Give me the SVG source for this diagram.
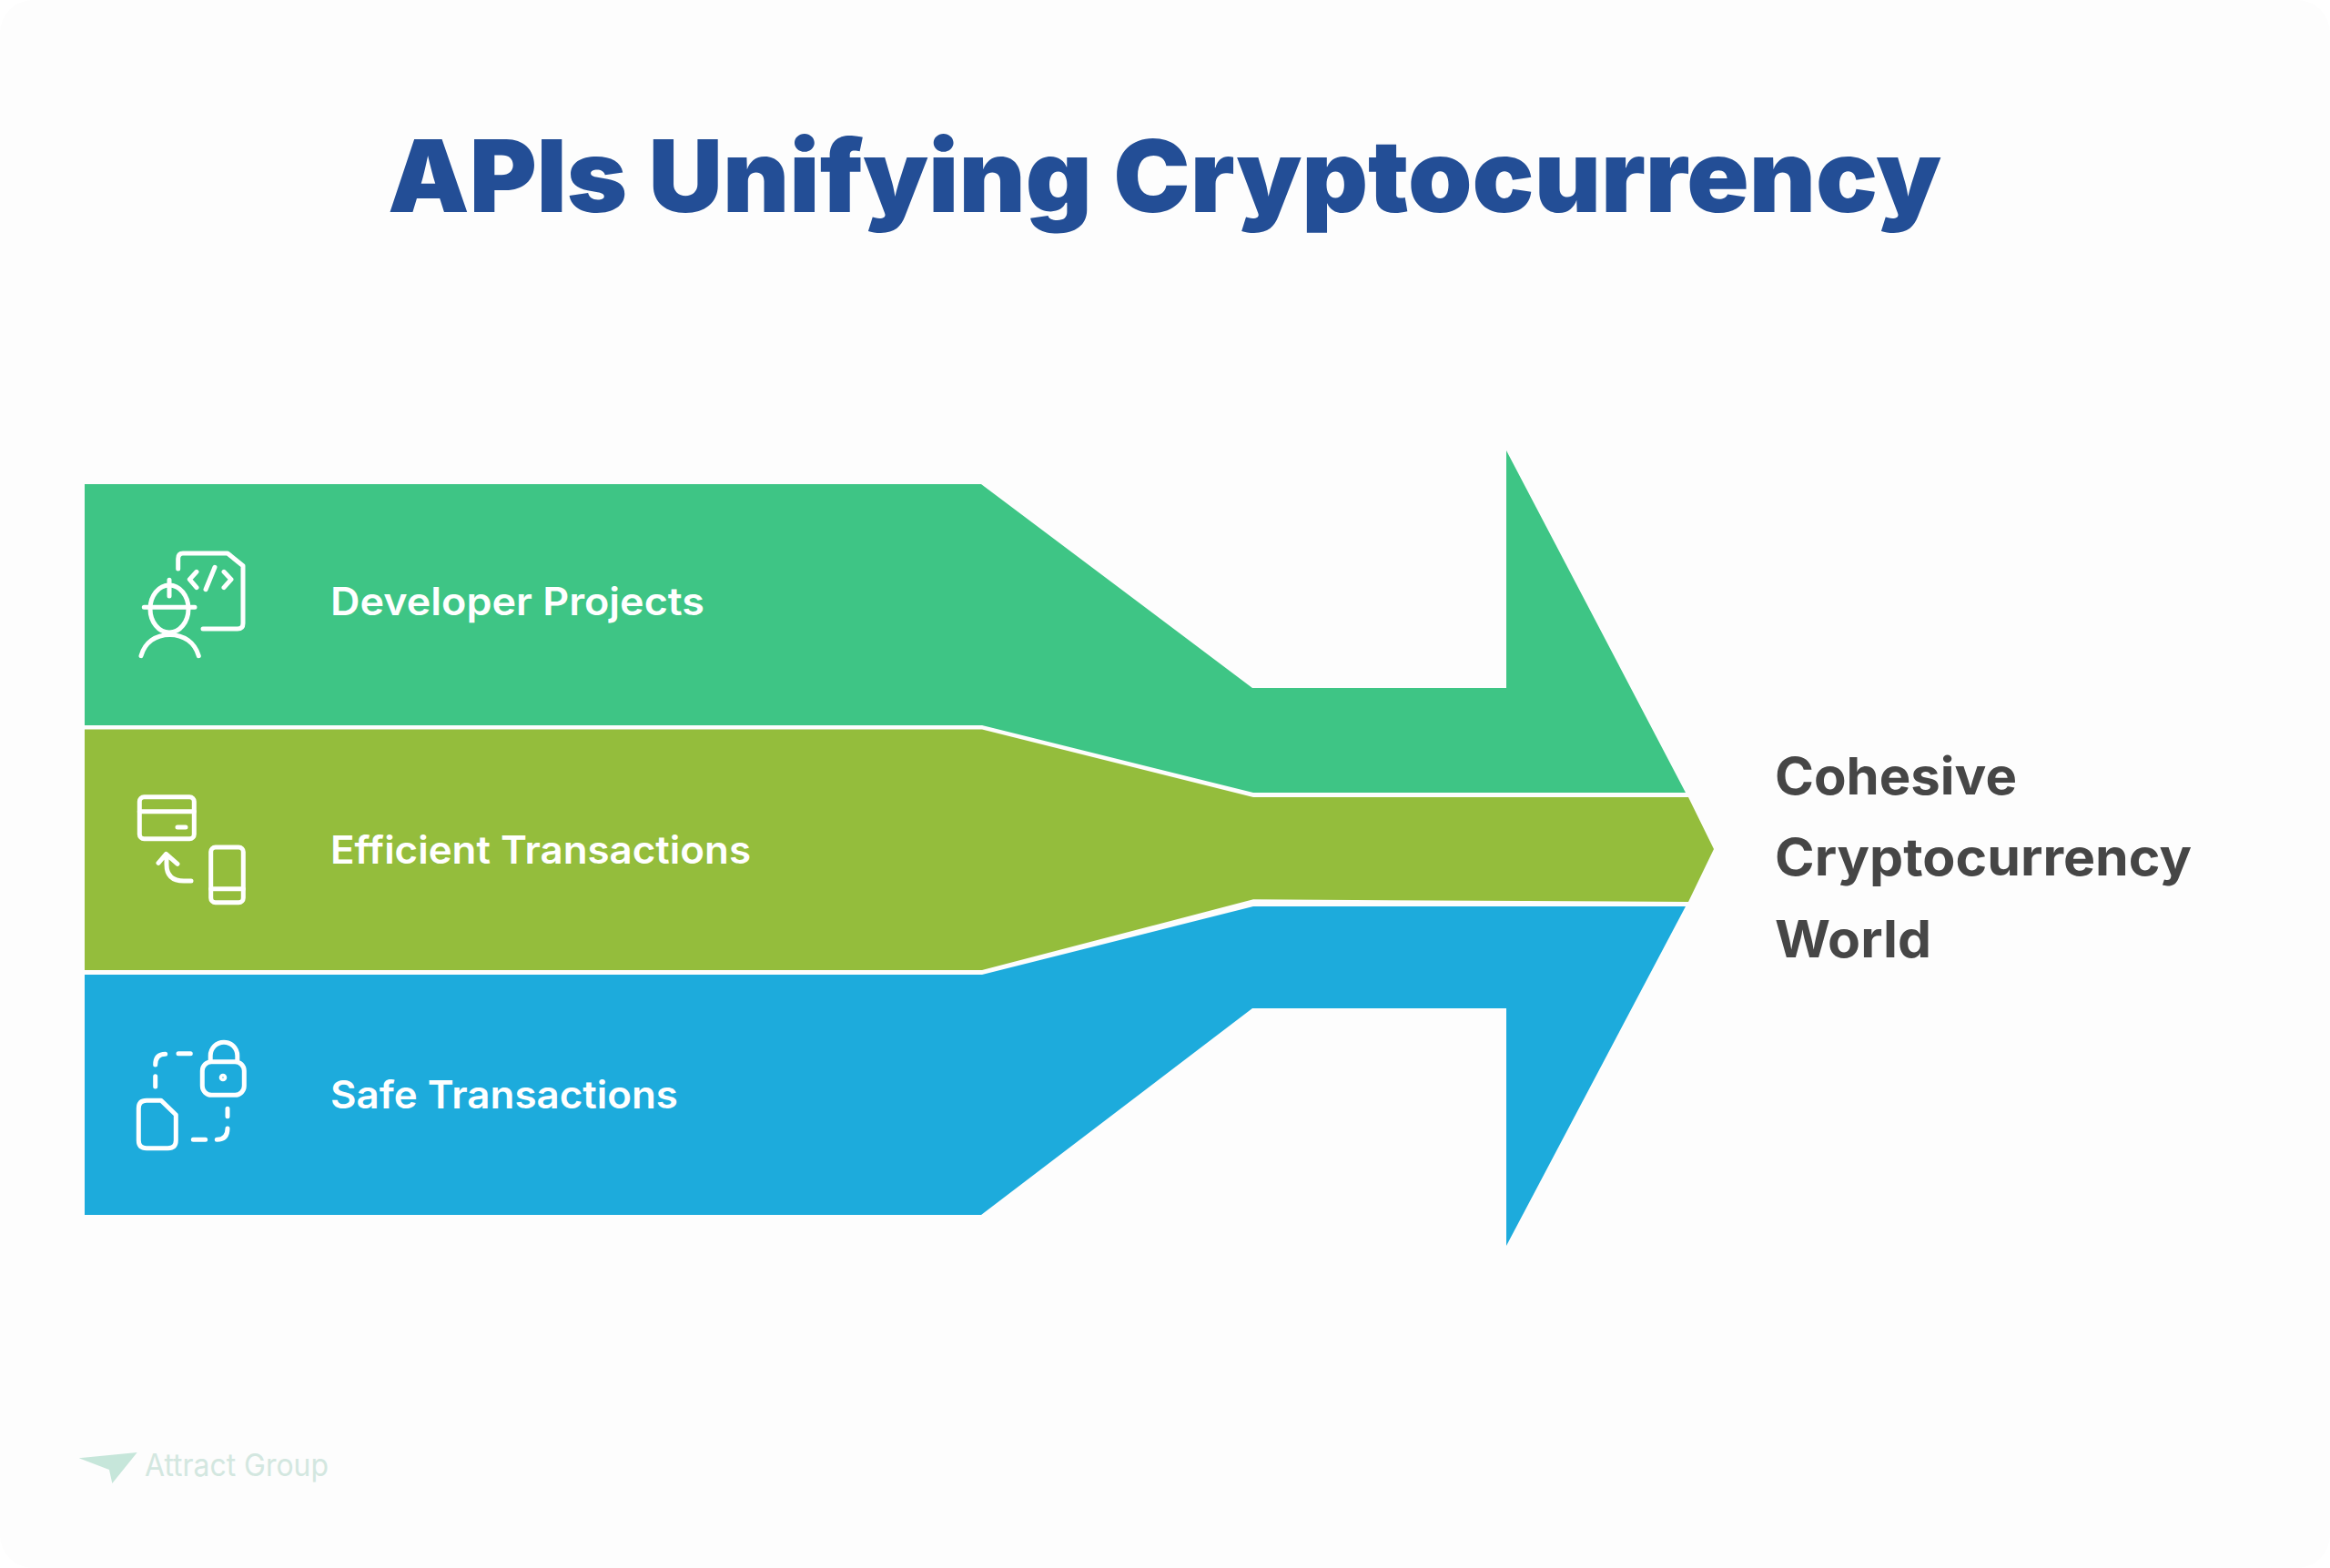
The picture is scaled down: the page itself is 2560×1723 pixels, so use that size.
<svg xmlns="http://www.w3.org/2000/svg" width="2560" height="1723" viewBox="0 0 2560 1723">
<style>
.ic{fill:none;stroke:#fff;stroke-width:5;stroke-linecap:round;stroke-linejoin:round}
.lb{font-family:"Inter","Liberation Sans",sans-serif;font-weight:600;font-size:42px;fill:#fff}
.rt{font-family:"Inter","Liberation Sans",sans-serif;font-weight:700;font-size:56px;fill:#464646}
</style>
<rect width="2560" height="1723" fill="#fff"/>
<rect x="0" y="0" width="2560" height="1723" rx="36" fill="#fdfdfd"/>
<text id="title" x="426" y="233" textLength="1707" lengthAdjust="spacingAndGlyphs" word-spacing="1" font-family="Inter,'Liberation Sans',sans-serif" font-weight="900" font-size="110" fill="#234e96">APIs Unifying Cryptocurrency</text>
<g id="connectors">
<path id="band-green" fill="#3ec585" d="M93 532H1078L1376 756H1655V495L1852 871H1377L1079 797H93Z"/>
<path id="band-olive" fill="#94bd3c" d="M93 801.500H1079L1377 876H1855L1883 933L1855 991L1377 988.300L1079 1066H93Z"/>
<path id="band-blue" fill="#1dabdc" d="M93 1071H1079L1377 996H1852L1655 1369V1108H1376L1078 1335H93Z"/>
</g>
<g id="node-developer">
<path class="ic" d="M195.700 625V614Q195.700 608 201 608H250L267 621.700V685Q267 691 261 691H223"/>
<path class="ic" d="M216 628.300L208.300 636.700L216 645.700M236 623.300L226 647.700M246 628.300L254 636.700L246 645.700"/>
<ellipse class="ic" cx="186" cy="669" rx="21" ry="26"/>
<path class="ic" d="M158.300 667.300H214M186 637.300V655M155 720.700C159 706 171 697.500 186.500 697.500C202 697.500 214 706 218.300 720.700"/>
<text class="lb" x="363" y="675.500" textLength="411" lengthAdjust="spacingAndGlyphs">Developer Projects</text>
</g>
<g id="node-efficient">
<rect class="ic" x="153.300" y="875.700" width="60" height="46" rx="5"/>
<path class="ic" d="M153.300 891.700H213.300M195 909H204"/>
<rect class="ic" x="231.700" y="931" width="35.600" height="60.700" rx="5"/>
<path class="ic" d="M231.700 976.700H267.300M174 948.300L182.500 938.300L195 949.300M183 940V950Q183 968 202 968H210"/>
<text class="lb" x="363" y="948.500" textLength="462" lengthAdjust="spacingAndGlyphs">Efficient Transactions</text>
</g>
<g id="node-safe">
<rect class="ic" x="222.300" y="1166.700" width="46" height="36.600" rx="10"/>
<path class="ic" d="M231.200 1165V1160A14.800 14.800 0 0 1 260.800 1160V1165"/>
<circle class="ic" cx="245" cy="1184" r="1.800"/>
<path class="ic" d="M161 1209.300H177L193.300 1225V1253Q193.300 1261.700 184.500 1261.700H161Q152.300 1261.700 152.300 1253V1218Q152.300 1209.300 161 1209.300Z"/>
<path class="ic" d="M170.700 1170Q170.700 1158.300 181.700 1158.300M196 1157.700H209.300M170.700 1182.700V1194M250 1218.300V1226.700M250 1240Q250 1252.300 238.300 1252.300M212.300 1252.300H225.700"/>
<text class="lb" x="363" y="1218" textLength="382" lengthAdjust="spacingAndGlyphs">Safe Transactions</text>
</g>
<g id="node-result">
<text class="rt" x="1950" y="872.500" textLength="266" lengthAdjust="spacingAndGlyphs">Cohesive</text>
<text class="rt" x="1950" y="962" textLength="458" lengthAdjust="spacingAndGlyphs">Cryptocurrency</text>
<text class="rt" x="1950" y="1051.500" textLength="172" lengthAdjust="spacingAndGlyphs">World</text>
</g>
<g id="logo">
<path fill="#c6e6da" d="M86.700 1602.300L150.700 1596L123.300 1630L120 1615Z"/>
<text x="159" y="1622" textLength="202" lengthAdjust="spacingAndGlyphs" font-family="Inter,'Liberation Sans',sans-serif" font-size="34" fill="#d3e7e0">Attract Group</text>
</g>
</svg>
